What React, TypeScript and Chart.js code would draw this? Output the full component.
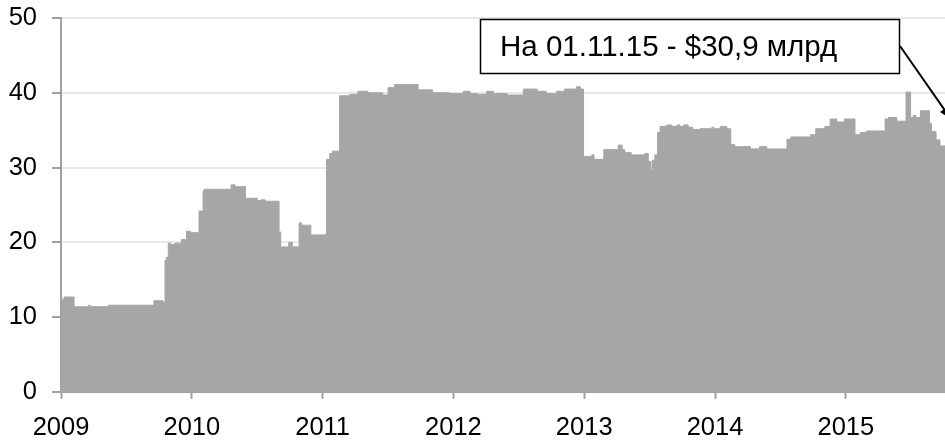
import React, { useEffect, useRef } from "react";
import { Chart, registerables } from "chart.js";

Chart.register(...registerables);

// Step start dates (fractional years) and reserve values (bn USD) holding from that date
const stepStart = [
  2009.0, 2009.023, 2009.1, 2009.21, 2009.225, 2009.36, 2009.71, 2009.78, 2009.795, 2009.805,
  2009.82, 2009.84, 2009.87, 2009.92, 2009.96, 2009.99,
  2010.055, 2010.086, 2010.095, 2010.3, 2010.33, 2010.41, 2010.5, 2010.53, 2010.56, 2010.667,
  2010.68, 2010.74, 2010.77, 2010.82, 2010.84, 2010.91, 2011.02,
  2011.03, 2011.055, 2011.075, 2011.13, 2011.207, 2011.27, 2011.347, 2011.46, 2011.5, 2011.55,
  2011.73, 2011.84, 2011.97,
  2012.075, 2012.127, 2012.18, 2012.255, 2012.305, 2012.41, 2012.535, 2012.64, 2012.71, 2012.79,
  2012.85, 2012.94, 2012.97,
  2012.995, 2013.057, 2013.075, 2013.15, 2013.26, 2013.29, 2013.31, 2013.36, 2013.465, 2013.49,
  2013.51, 2013.52, 2013.54, 2013.56, 2013.58, 2013.63, 2013.67, 2013.71, 2013.73, 2013.76,
  2013.795, 2013.83, 2013.885, 2013.975, 2013.99,
  2014.04, 2014.09, 2014.12, 2014.15, 2014.27, 2014.34, 2014.395, 2014.55, 2014.58, 2014.73,
  2014.77, 2014.84, 2014.88, 2014.93, 2014.99,
  2015.07, 2015.11, 2015.16, 2015.3, 2015.325, 2015.39, 2015.46, 2015.495, 2015.515, 2015.535,
  2015.57, 2015.64, 2015.655, 2015.69, 2015.72,
];

const reserves = [
  12.4, 12.7, 11.4, 11.6, 11.4, 11.6, 12.2, 12.0, 17.6, 18.0,
  19.9, 19.7, 19.9, 20.4, 21.5, 21.3,
  24.2, 26.9, 27.1, 27.7, 27.45, 25.9, 25.6, 25.7, 25.5, 21.4,
  19.4, 20.0, 19.4, 22.6, 22.3, 21.0, 21.1,
  31.1, 31.9, 32.2, 39.6, 39.8, 40.2, 40.0, 39.7, 40.7, 41.1,
  40.4, 40.0, 39.9,
  40.2, 39.9, 39.8, 40.2, 39.9, 39.7, 40.5, 40.2, 39.9, 40.2,
  40.5, 40.8, 40.5,
  31.5, 31.7, 31.1, 32.4, 33.0, 32.4, 32.0, 31.7, 31.9, 30.8,
  29.6, 31.0, 31.7, 34.7, 35.5, 35.7, 35.5, 35.7, 35.5, 35.7,
  35.4, 35.1, 35.2, 35.4, 35.2,
  35.5, 35.2, 33.1, 32.8, 32.5, 32.8, 32.5, 33.8, 34.1, 34.4,
  35.2, 35.5, 36.5, 36.1, 36.5,
  34.4, 34.7, 34.9, 36.5, 36.7, 36.2, 40.1, 36.7, 37.0, 36.7,
  37.6, 35.9, 34.8, 33.7, 32.9,
];

const endYear = 2015.758;
const yearTicks = [2009, 2010, 2011, 2012, 2013, 2014, 2015];
const annotationText = "На 01.11.15 - $30,9 млрд";

const FONT = "'Liberation Sans', Arial, sans-serif";

const annotationPlugin = {
  id: "reserveAnnotation",
  afterDraw(chart: any) {
    const ctx = chart.ctx;
    ctx.save();
    ctx.fillStyle = "#ffffff";
    ctx.fillRect(480, 19, 419, 54);
    ctx.strokeStyle = "#000000";
    ctx.lineWidth = 1.5;
    ctx.strokeRect(480.5, 19.5, 419, 54);
    ctx.fillStyle = "#000000";
    ctx.font = `29.5px ${FONT}`;
    ctx.textBaseline = "middle";
    ctx.textAlign = "left";
    ctx.fillText(annotationText, 500, 48);
    const x1 = 900, y1 = 46, x2 = 951, y2 = 119;
    ctx.beginPath();
    ctx.moveTo(x1, y1);
    ctx.lineTo(x2, y2);
    ctx.lineWidth = 2;
    ctx.stroke();
    const ang = Math.atan2(y2 - y1, x2 - x1);
    const len = 13;
    ctx.beginPath();
    ctx.moveTo(x2, y2);
    ctx.lineTo(x2 - len * Math.cos(ang - 0.4), y2 - len * Math.sin(ang - 0.4));
    ctx.lineTo(x2 - len * Math.cos(ang + 0.4), y2 - len * Math.sin(ang + 0.4));
    ctx.closePath();
    ctx.fill();
    ctx.restore();
  },
};

export default function App() {
  const canvasRef = useRef<HTMLCanvasElement | null>(null);

  useEffect(() => {
    if (!canvasRef.current) return;
    const points = stepStart.map((x, i) => ({ x, y: reserves[i] }));
    points.push({ x: endYear, y: reserves[reserves.length - 1] });

    const chart = new Chart(canvasRef.current, {
      type: "line",
      data: {
        datasets: [
          {
            data: points,
            stepped: true,
            fill: "origin",
            backgroundColor: "#a6a6a6",
            borderColor: "#a6a6a6",
            borderWidth: 1,
            pointRadius: 0,
          },
        ],
      },
      options: {
        animation: false,
        responsive: false,
        maintainAspectRatio: false,
        layout: { padding: { top: 18, right: 0, left: 0, bottom: 0 } },
        plugins: { legend: { display: false }, tooltip: { enabled: false } },
        scales: {
          x: {
            type: "linear",
            min: 2009,
            max: endYear,
            afterBuildTicks: (s: any) => {
              s.ticks = yearTicks.map((v) => ({ value: v }));
            },
            afterFit: (s: any) => {
              s.height = 49;
              s.paddingLeft = 0;
              s.paddingRight = 0;
            },
            ticks: {
              callback: (v: any) => String(v),
              font: { family: FONT, size: 25.5 },
              color: "#000000",
              padding: 14,
              maxRotation: 0,
              autoSkip: false,
            },
            grid: {
              drawOnChartArea: false,
              drawTicks: true,
              tickLength: 7,
              tickColor: "#a0a0a0",
              tickWidth: 2,
            },
            border: { color: "#a0a0a0", width: 2 },
          },
          y: {
            min: 0,
            max: 50,
            afterFit: (s: any) => {
              s.width = 61;
              s.paddingTop = 0;
              s.paddingBottom = 0;
            },
            ticks: {
              stepSize: 10,
              font: { family: FONT, size: 25.5 },
              color: "#000000",
              padding: 15,
            },
            grid: {
              color: "#e8e8e8",
              lineWidth: 2,
              tickLength: 9,
              tickColor: "#a0a0a0",
              tickWidth: 2,
            },
            border: { color: "#a0a0a0", width: 2 },
          },
        },
      },
      plugins: [annotationPlugin],
    });
    return () => chart.destroy();
  }, []);

  return (
    <div style={{ position: "absolute", left: 0, top: 0, width: 945, height: 441, background: "#fff" }}>
      <canvas ref={canvasRef} width={945} height={441} style={{ display: "block" }} />
    </div>
  );
}
